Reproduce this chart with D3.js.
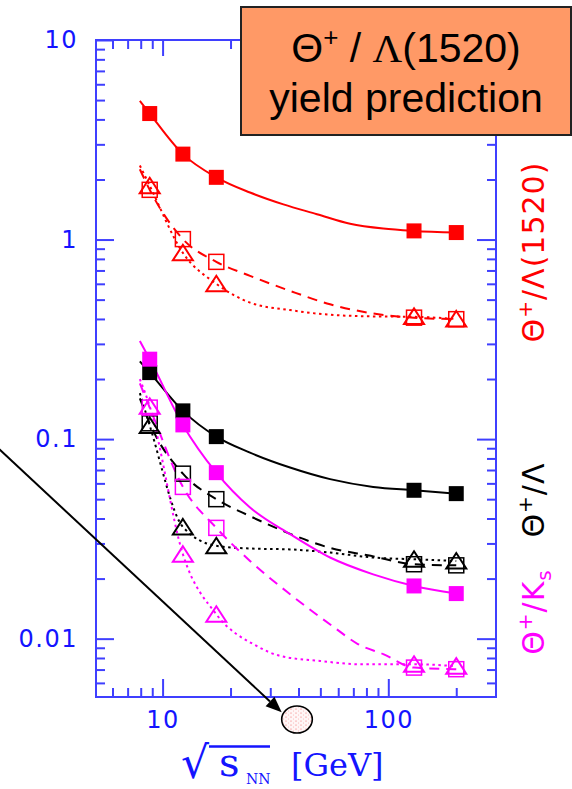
<!DOCTYPE html>
<html>
<head>
<meta charset="utf-8">
<script src="https://cdn.jsdelivr.net/npm/d3@7"></script>
<style>
  html, body { margin: 0; padding: 0; background: #fff; }
  svg { display: block; }
</style>
</head>
<body>
<svg id="chart" width="572" height="789"></svg>
<script>
// ---- collision energies (sqrt(s_NN), GeV) of the predicted points ----
const energy = [8.77, 12.3, 17.3, 130, 200];

// ---- Theta+ / Lambda(1520) ----
const lam1520Filled = [4.28, 2.68, 2.05, 1.105, 1.084];
const lam1520OpenSq = [1.775, 1.005, 0.773, 0.406, 0.399];
const lam1520Tri    = [1.86, 0.858, 0.60, 0.412, 0.40];

// ---- Theta+ / Lambda ----
const lamFilled = [0.2154, 0.1385, 0.1029, 0.0554, 0.0533];
const lamOpenSq = [0.120, 0.0671, 0.050, 0.0236, 0.0233];
const lamTri    = [0.117, 0.0363, 0.0292, 0.0250, 0.0245];

// ---- Theta+ / K_s ----
const ksFilled = [0.2515, 0.1178, 0.0679, 0.01837, 0.01682];
const ksOpenSq = [0.1438, 0.0576, 0.0359, 0.00716, 0.00703];
const ksTri    = [0.146, 0.0265, 0.01325, 0.00744, 0.00728];

// ---- model curves (energy, ratio) ----
const lam1520SolidX  = [7.93, 8.77, 12.3, 17.3, 24.4, 34.3, 48.3, 67.7, 94.9, 130, 200];
const lam1520SolidY  = [4.96, 4.28, 2.68, 2.05, 1.72, 1.50, 1.34, 1.20, 1.135, 1.105, 1.084];
const lam1520DashX   = [7.93, 8.77, 12.3, 17.3, 24.4, 36.7, 55.2, 85.7, 130, 200];
const lam1520DashY   = [2.25, 1.775, 1.005, 0.773, 0.658, 0.553, 0.474, 0.426, 0.406, 0.399];
const lam1520DotX    = [7.93, 8.77, 12.3, 17.3, 24.4, 36.7, 55.2, 85.7, 130, 200];
const lam1520DotY    = [2.35, 1.86, 0.858, 0.60, 0.483, 0.443, 0.420, 0.412, 0.410, 0.400];

const lamSolidX = [7.93, 8.77, 12.3, 17.3, 24.4, 36.7, 55.2, 85.7, 130, 200];
const lamSolidY = [0.245, 0.2154, 0.1385, 0.1029, 0.0855, 0.0720, 0.0630, 0.0576, 0.0554, 0.0533];
const lamDashX  = [7.93, 8.77, 12.3, 17.3, 24.4, 35.6, 54.6, 83.6, 130, 200];
const lamDashY  = [0.16, 0.120, 0.0671, 0.050, 0.0411, 0.034, 0.0286, 0.0260, 0.0236, 0.0233];
const lamDotX   = [7.93, 8.77, 12.3, 17.3, 24.4, 36.7, 55.2, 85.7, 130, 200];
const lamDotY   = [0.17, 0.117, 0.0363, 0.0292, 0.0283, 0.0280, 0.0270, 0.0255, 0.0250, 0.0245];

const ksSolidX = [7.93, 8.77, 12.3, 17.3, 24.4, 36.7, 55.2, 85.7, 130, 200];
const ksSolidY = [0.31, 0.2515, 0.1178, 0.0679, 0.0454, 0.0334, 0.0255, 0.0210, 0.01837, 0.01682];
const ksDashX  = [7.93, 8.77, 12.3, 17.3, 24.4, 36.7, 57.8, 73.3, 95, 130, 200];
const ksDashY  = [0.19, 0.1438, 0.0576, 0.0359, 0.0245, 0.0167, 0.01135, 0.0094, 0.00836, 0.00716, 0.00703];
const ksDotX   = [7.93, 8.77, 12.3, 17.3, 26.1, 33.2, 49.8, 75, 130, 200];
const ksDotY   = [0.20, 0.146, 0.0265, 0.01325, 0.00919, 0.00819, 0.00773, 0.00744, 0.00744, 0.00728];

// ---- axis ticks ----
const xTickMajor = [10, 100];
const xTickLabels = ["10", "100"];
const xTickMinor = [6, 7, 8, 9, 20, 30, 40, 50, 60, 70, 80, 90, 200];
const yTickMajor = [0.01, 0.1, 1, 10];
const yTickLabels = ["0.01", "0.1", "1", "10"];
const yTickMinor = [0.006, 0.007, 0.008, 0.009,
                    0.02, 0.03, 0.04, 0.05, 0.06, 0.07, 0.08, 0.09,
                    0.2, 0.3, 0.4, 0.5, 0.6, 0.7, 0.8, 0.9,
                    2, 3, 4, 5, 6, 7, 8, 9];

// ---- layout ----
const svg = d3.select("#chart");
const plot = { left: 96, right: 496, top: 40, bottom: 697 };
const x = d3.scaleLog().domain([5.07, 300]).range([plot.left, plot.right]);
const y = d3.scaleLog().domain([0.0051, 10]).range([plot.bottom, plot.top]);

const RED = "#ff0000", BLACK = "#000000", MAGENTA = "#ff00ff";
const AXIS = "#3f3fff", AXIS_TEXT = "#1414ff";

svg.append("rect").attr("width", 572).attr("height", 789).attr("fill", "#fff");

// ---- axes (ticks point into the frame) ----
function tidy(g, withText) {
  g.select(".domain").remove();
  g.selectAll(".tick line").attr("stroke", AXIS).attr("stroke-width", 2);
  if (withText) {
    g.selectAll(".tick text")
      .attr("fill", AXIS_TEXT)
      .attr("font-family", "DejaVu Sans, sans-serif")
      .attr("font-size", 24)
      .attr("letter-spacing", 1.5);
  } else {
    g.selectAll(".tick text").remove();
  }
}

svg.append("g").attr("transform", `translate(${plot.left},0)`)
  .call(d3.axisLeft(y).tickValues(yTickMinor).tickSize(-9).tickFormat(""))
  .call(g => tidy(g, false));
svg.append("g").attr("transform", `translate(${plot.left},0)`)
  .call(d3.axisLeft(y).tickValues(yTickMajor).tickSize(-18).tickPadding(18)
        .tickFormat((d, i) => yTickLabels[i]))
  .call(g => tidy(g, true));

svg.append("g").attr("transform", `translate(${plot.right},0)`)
  .call(d3.axisRight(y).tickValues(yTickMinor).tickSize(-9).tickFormat(""))
  .call(g => tidy(g, false));
svg.append("g").attr("transform", `translate(${plot.right},0)`)
  .call(d3.axisRight(y).tickValues(yTickMajor).tickSize(-19).tickFormat(""))
  .call(g => tidy(g, false));

svg.append("g").attr("transform", `translate(0,${plot.bottom})`)
  .call(d3.axisBottom(x).tickValues(xTickMinor).tickSize(-9).tickFormat(""))
  .call(g => tidy(g, false));
svg.append("g").attr("transform", `translate(0,${plot.bottom})`)
  .call(d3.axisBottom(x).tickValues(xTickMajor).tickSize(-18).tickPadding(14)
        .tickFormat((d, i) => xTickLabels[i]))
  .call(g => tidy(g, true));

svg.append("g").attr("transform", `translate(0,${plot.top})`)
  .call(d3.axisTop(x).tickValues(xTickMinor).tickSize(-9).tickFormat(""))
  .call(g => tidy(g, false));
svg.append("g").attr("transform", `translate(0,${plot.top})`)
  .call(d3.axisTop(x).tickValues(xTickMajor).tickSize(-16).tickFormat(""))
  .call(g => tidy(g, false));

svg.append("rect")
  .attr("x", plot.left).attr("y", plot.top)
  .attr("width", plot.right - plot.left).attr("height", plot.bottom - plot.top)
  .attr("fill", "none").attr("stroke", AXIS).attr("stroke-width", 2);

// ---- model curves ----
const line = d3.line()
  .x(d => x(d[0])).y(d => y(d[1]))
  .curve(d3.curveMonotoneX);

const DASH = "10,7", DOT = "2.5,3.5";
const curves = [
  { xs: lam1520SolidX, ys: lam1520SolidY, color: RED, dash: null },
  { xs: lam1520DashX,  ys: lam1520DashY,  color: RED, dash: DASH },
  { xs: lam1520DotX,   ys: lam1520DotY,   color: RED, dash: DOT },
  { xs: lamSolidX, ys: lamSolidY, color: BLACK, dash: null },
  { xs: lamDashX,  ys: lamDashY,  color: BLACK, dash: DASH },
  { xs: lamDotX,   ys: lamDotY,   color: BLACK, dash: DOT },
  { xs: ksSolidX, ys: ksSolidY, color: MAGENTA, dash: null },
  { xs: ksDashX,  ys: ksDashY,  color: MAGENTA, dash: DASH },
  { xs: ksDotX,   ys: ksDotY,   color: MAGENTA, dash: DOT }
];

const curveG = svg.append("g").attr("fill", "none");
curves.forEach(c => {
  curveG.append("path")
    .datum(c.xs.map((v, i) => [v, c.ys[i]]))
    .attr("d", line)
    .attr("stroke", c.color)
    .attr("stroke-width", 2)
    .attr("stroke-dasharray", c.dash);
});

// ---- markers ----
const markerG = svg.append("g");
const series = [
  { vals: lam1520Filled, color: RED, kind: "filled" },
  { vals: lam1520OpenSq, color: RED, kind: "open" },
  { vals: lam1520Tri,    color: RED, kind: "tri" },
  { vals: lamFilled, color: BLACK, kind: "filled" },
  { vals: lamOpenSq, color: BLACK, kind: "open" },
  { vals: lamTri,    color: BLACK, kind: "tri" },
  { vals: ksFilled, color: MAGENTA, kind: "filled" },
  { vals: ksOpenSq, color: MAGENTA, kind: "open" },
  { vals: ksTri,    color: MAGENTA, kind: "tri" }
];
const order = ["open", "tri", "filled"];
order.forEach(kind => {
  series.filter(s => s.kind === kind).forEach(s => {
    const pts = energy.map((e, i) => [e, s.vals[i]]);
    const sel = markerG.selectAll(null).data(pts).enter();
    if (kind === "filled") {
      sel.append("rect")
        .attr("x", d => x(d[0]) - 7.5).attr("y", d => y(d[1]) - 7.5)
        .attr("width", 15).attr("height", 15)
        .attr("fill", s.color);
    } else if (kind === "open") {
      sel.append("rect")
        .attr("x", d => x(d[0]) - 7.5).attr("y", d => y(d[1]) - 7.5)
        .attr("width", 15).attr("height", 15)
        .attr("fill", "none").attr("stroke", s.color).attr("stroke-width", 1.5);
    } else {
      sel.append("path")
        .attr("transform", d => `translate(${x(d[0])},${y(d[1])})`)
        .attr("d", "M0,-8 L10,7.5 L-10,7.5 Z")
        .attr("fill", "none").attr("stroke", s.color)
        .attr("stroke-width", 2).attr("stroke-linejoin", "miter");
    }
  });
});

// ---- ratio labels along the right edge ----
function sideLabel(cy, color, parts) {
  const t = svg.append("text")
    .attr("transform", `translate(533,${cy}) rotate(-90)`)
    .attr("text-anchor", "middle")
    .attr("dy", "0.36em")
    .attr("fill", color)
    .attr("font-family", "DejaVu Sans, sans-serif")
    .attr("font-size", 30)
    .attr("letter-spacing", 1);
  parts.forEach(p => {
    const ts = t.append("tspan").text(p.t);
    if (p.size) ts.attr("font-size", p.size);
    if (p.dy) ts.attr("dy", p.dy);
  });
}
sideLabel(252, RED, [
  { t: "Θ" }, { t: "+", size: 20, dy: -12 }, { t: "/Λ(1520)", size: 30, dy: 12 }
]);
sideLabel(500, BLACK, [
  { t: "Θ" }, { t: "+", size: 20, dy: -12 }, { t: "/Λ", size: 30, dy: 12 }
]);
sideLabel(612, MAGENTA, [
  { t: "Θ" }, { t: "+", size: 20, dy: -12 }, { t: "/K", size: 30, dy: 12 },
  { t: "s", size: 20, dy: 7 }
]);

// ---- x-axis title: sqrt(s_NN) [GeV] ----
const title = svg.append("g").attr("fill", AXIS_TEXT);
// vinculum of the radical, drawn under the glyphs
title.append("line")
  .attr("x1", 209).attr("x2", 270).attr("y1", 746.5).attr("y2", 746.5)
  .attr("stroke", AXIS_TEXT).attr("stroke-width", 2.5);
title.append("text")
  .attr("x", 181).attr("y", 778)
  .attr("font-family", "DejaVu Serif, serif")
  .attr("font-size", 44)
  .text("√");
title.append("text")
  .attr("x", 219).attr("y", 776)
  .attr("font-family", "DejaVu Serif, serif")
  .attr("font-size", 40)
  .text("s");
title.append("text")
  .attr("x", 246).attr("y", 784)
  .attr("font-family", "DejaVu Serif, serif")
  .attr("font-size", 14)
  .text("NN");
title.append("text")
  .attr("x", 291).attr("y", 776)
  .attr("font-family", "DejaVu Serif, serif")
  .attr("font-size", 32)
  .text("[GeV]");

// ---- arrow pointing to the nucleus ----
const defs = svg.append("defs");
const pat = defs.append("pattern").attr("id", "speckle")
  .attr("width", 5).attr("height", 4).attr("patternUnits", "userSpaceOnUse");
pat.append("rect").attr("width", 5).attr("height", 4).attr("fill", "#fff6f6");
pat.append("circle").attr("cx", 1).attr("cy", 1).attr("r", 0.55).attr("fill", "#f06060");
pat.append("circle").attr("cx", 3.5).attr("cy", 3).attr("r", 0.45).attr("fill", "#f48080");

const tail = [-5, 445.3], tip = [281.7, 712.3];
const dx = tip[0] - tail[0], dy = tip[1] - tail[1];
const len = Math.hypot(dx, dy), ux = dx / len, uy = dy / len;
const headL = 16, headW = 6.5;
const base = [tip[0] - ux * headL, tip[1] - uy * headL];
svg.append("line")
  .attr("x1", tail[0]).attr("y1", tail[1])
  .attr("x2", base[0]).attr("y2", base[1])
  .attr("stroke", "#000").attr("stroke-width", 2);
svg.append("path")
  .attr("d", `M${tip[0]},${tip[1]} L${base[0] - uy * headW},${base[1] + ux * headW} L${base[0] + uy * headW},${base[1] - ux * headW} Z`)
  .attr("fill", "#000");
svg.append("ellipse")
  .attr("cx", 297).attr("cy", 719.5).attr("rx", 15.3).attr("ry", 13.5)
  .attr("fill", "url(#speckle)").attr("stroke", "#000").attr("stroke-width", 1.6);

// ---- heading box ----
const box = svg.append("g");
box.append("rect")
  .attr("x", 241).attr("y", 7).attr("width", 330).attr("height", 128)
  .attr("fill", "#ff9966").attr("stroke", "#222").attr("stroke-width", 2);
const h1 = box.append("text")
  .attr("x", 406).attr("y", 62)
  .attr("text-anchor", "middle")
  .attr("font-family", "Liberation Sans, Arial, sans-serif")
  .attr("font-size", 41).attr("fill", "#000");
h1.append("tspan").text("Θ");
h1.append("tspan").attr("font-size", 26).attr("dy", -16).text("+");
h1.append("tspan").attr("font-size", 41).attr("dy", 16).text(" / ");
h1.append("tspan").attr("font-family", "Liberation Serif, serif").text("Λ");
h1.append("tspan").text("(1520)");
box.append("text")
  .attr("x", 406).attr("y", 112)
  .attr("text-anchor", "middle")
  .attr("font-family", "Liberation Sans, Arial, sans-serif")
  .attr("font-size", 41).attr("fill", "#000")
  .text("yield prediction");
</script>
</body>
</html>
